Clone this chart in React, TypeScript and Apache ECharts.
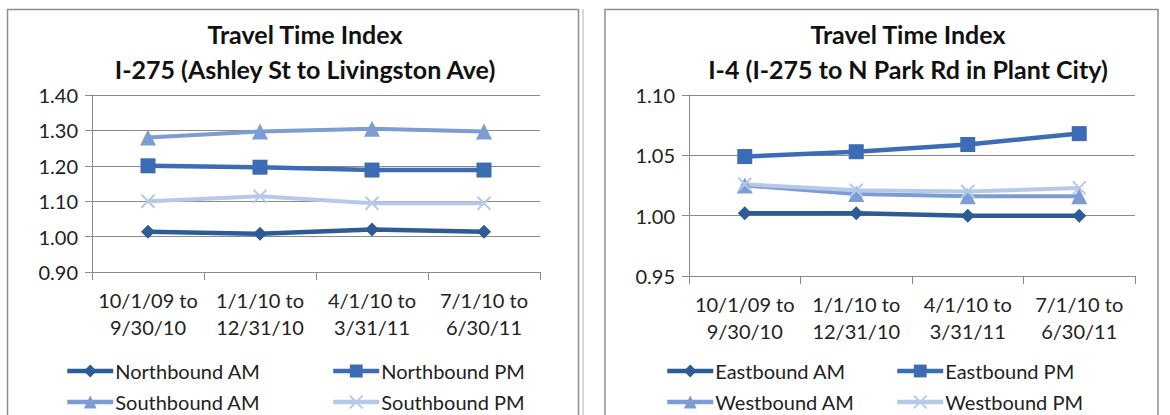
import React, { useEffect, useRef } from "react";
import * as echarts from "echarts";

const categories = [
  "10/1/09 to\n9/30/10",
  "1/1/10 to\n12/31/10",
  "4/1/10 to\n3/31/11",
  "7/1/10 to\n6/30/11",
];

const northboundAM = [1.014, 1.008, 1.02, 1.014];
const northboundPM = [1.2, 1.196, 1.188, 1.188];
const southboundAM = [1.28, 1.297, 1.305, 1.297];
const southboundPM = [1.1, 1.114, 1.094, 1.094];

const eastboundAM = [1.002, 1.002, 1.0, 1.0];
const eastboundPM = [1.049, 1.053, 1.059, 1.068];
const westboundAM = [1.025, 1.018, 1.016, 1.016];
const westboundPM = [1.026, 1.021, 1.02, 1.023];

const leftTitle = "Travel Time Index\nI-275 (Ashley St to Livingston Ave)";
const rightTitle = "Travel Time Index\nI-4 (I-275 to N Park Rd in Plant City)";

const C_DARK = "#2D5B93";
const C_MED = "#3C6CB4";
const C_TRI = "#7B9DD3";
const C_LIGHT = "#B7C9E8";
const CROSS = "path://M0,0L10,10M10,0L0,10";
const FONT = "Lato";
const AXIS = "#8a8a8a";

function mkSeries(name: string, data: number[], idx: number, kind: string) {
  const base: any = {
    name,
    type: "line",
    data,
    xAxisIndex: idx,
    yAxisIndex: idx,
    showAllSymbol: true,
  };
  if (kind === "diamond") {
    return { ...base, symbol: "diamond", symbolSize: 14, lineStyle: { color: C_DARK, width: 4.5 }, itemStyle: { color: C_DARK } };
  }
  if (kind === "rect") {
    return { ...base, symbol: "rect", symbolSize: 15, lineStyle: { color: C_MED, width: 4.5 }, itemStyle: { color: C_MED } };
  }
  if (kind === "triangle") {
    return { ...base, symbol: "triangle", symbolSize: 16, lineStyle: { color: C_TRI, width: 4 }, itemStyle: { color: C_TRI } };
  }
  return {
    ...base,
    symbol: CROSS,
    symbolSize: 13,
    lineStyle: { color: C_LIGHT, width: 4 },
    itemStyle: { color: C_LIGHT, borderColor: C_LIGHT, borderWidth: 2 },
  };
}

function mkLegend(name: string, left: number, top: number) {
  return {
    data: [name],
    left,
    top,
    itemWidth: 46,
    itemHeight: 16,
    itemGap: 0,
    padding: 0,
    selectedMode: false,
    lineStyle: { width: 4.5 },
    textStyle: { fontSize: 20, color: "#222", fontFamily: FONT, padding: [0, 0, 0, -3] },
  };
}

function xAxisOf(grid: number) {
  return {
    type: "category",
    gridIndex: grid,
    data: categories,
    boundaryGap: true,
    axisLine: { show: true, lineStyle: { color: AXIS, width: 1 } },
    axisTick: { show: true, length: 8, lineStyle: { color: AXIS } },
    axisLabel: {
      interval: 0,
      margin: 14,
      fontSize: 20,
      lineHeight: 27,
      color: "#222",
      fontFamily: FONT,
    },
    splitLine: { show: false },
  };
}

function yAxisOf(grid: number, min: number, max: number, interval: number) {
  return {
    type: "value",
    gridIndex: grid,
    min,
    max,
    interval,
    axisLine: { show: true, lineStyle: { color: AXIS, width: 1 } },
    axisTick: { show: true, length: 7, lineStyle: { color: AXIS } },
    axisLabel: {
      margin: 14,
      fontSize: 20,
      color: "#222",
      fontFamily: FONT,
      formatter: (v: number) => v.toFixed(2),
    },
    splitLine: { show: true, lineStyle: { color: AXIS, width: 1 } },
  };
}

export default function App() {
  const ref = useRef<HTMLDivElement>(null);
  useEffect(() => {
    if (!ref.current) return;
    const chart = echarts.init(ref.current, undefined, { renderer: "svg" });
    chart.setOption({
      animation: false,
      backgroundColor: "#ffffff",
      title: [
        {
          text: leftTitle,
          left: 300,
          top: 11,
          textAlign: "center",
          textStyle: { fontSize: 25, fontWeight: "bold", color: "#111", fontFamily: FONT, lineHeight: 35 },
        },
        {
          text: rightTitle,
          left: 903,
          top: 11,
          textAlign: "center",
          textStyle: { fontSize: 25, fontWeight: "bold", color: "#111", fontFamily: FONT, lineHeight: 35 },
        },
      ],
      grid: [
        { left: 92, top: 95, width: 448, height: 177 },
        { left: 689, top: 95, width: 446, height: 181 },
      ],
      xAxis: [xAxisOf(0), xAxisOf(1)],
      yAxis: [yAxisOf(0, 0.9, 1.4, 0.1), yAxisOf(1, 0.95, 1.1, 0.05)],
      legend: [
        mkLegend("Northbound AM", 65, 361),
        mkLegend("Northbound PM", 331, 361),
        mkLegend("Southbound AM", 65, 392),
        mkLegend("Southbound PM", 331, 392),
        mkLegend("Eastbound AM", 665, 361),
        mkLegend("Eastbound PM", 895, 361),
        mkLegend("Westbound AM", 665, 392),
        mkLegend("Westbound PM", 895, 392),
      ],
      series: [
        mkSeries("Northbound AM", northboundAM, 0, "diamond"),
        mkSeries("Northbound PM", northboundPM, 0, "rect"),
        mkSeries("Southbound AM", southboundAM, 0, "triangle"),
        mkSeries("Southbound PM", southboundPM, 0, "cross"),
        mkSeries("Eastbound AM", eastboundAM, 1, "diamond"),
        mkSeries("Eastbound PM", eastboundPM, 1, "rect"),
        mkSeries("Westbound AM", westboundAM, 1, "triangle"),
        mkSeries("Westbound PM", westboundPM, 1, "cross"),
      ],
      graphic: [
        { type: "rect", shape: { x: 7.5, y: 9.5, width: 571, height: 430 }, style: { fill: "none", stroke: "#8e8e8e", lineWidth: 1.5 }, silent: true },
        { type: "line", shape: { x1: 583, y1: 9, x2: 583, y2: 415 }, style: { stroke: "#b0b0b0", lineWidth: 1 }, silent: true },
        { type: "rect", shape: { x: 605, y: 9.5, width: 553, height: 430 }, style: { fill: "none", stroke: "#8e8e8e", lineWidth: 1.5 }, silent: true },
      ],
    });
    return () => chart.dispose();
  }, []);
  return (
    <div
      ref={ref}
      style={{ position: "absolute", left: 0, top: 0, width: 1170, height: 415, background: "#fff" }}
    />
  );
}
